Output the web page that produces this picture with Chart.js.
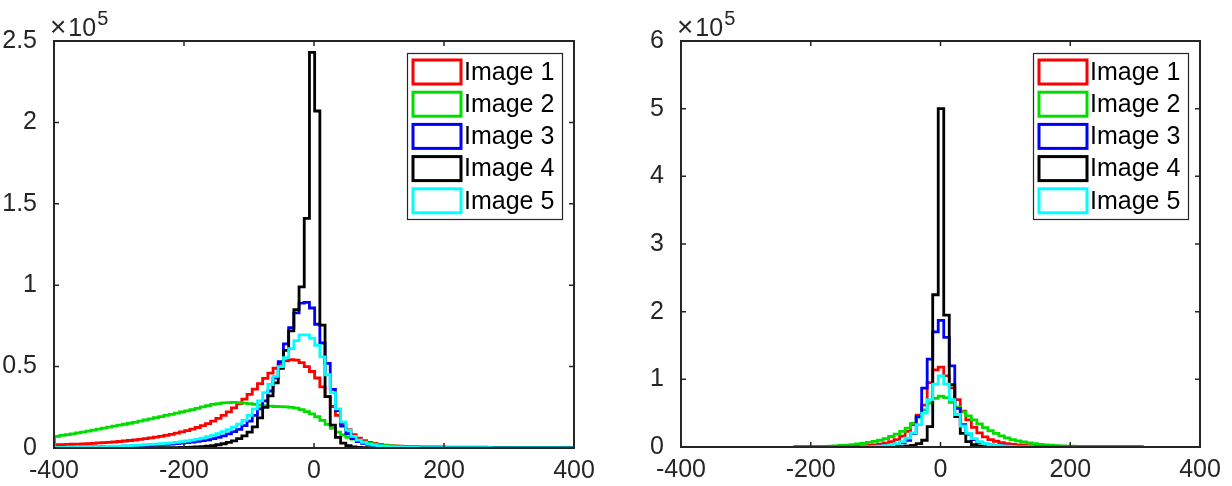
<!DOCTYPE html>
<html>
<head>
<meta charset="utf-8">
<script src="https://cdn.jsdelivr.net/npm/chart.js@4.4.1/dist/chart.umd.min.js"></script>
<style>
  html, body { margin: 0; padding: 0; background: #fff; }
  .panel { position: absolute; top: 0; width: 616px; height: 486px; }
</style>
</head>
<body>
<div class="panel" style="left:0"><canvas id="hist-left"></canvas></div>
<div class="panel" style="left:616px"><canvas id="hist-right"></canvas></div>
<script>
// series names and colours
const labels = ['Image 1', 'Image 2', 'Image 3', 'Image 4', 'Image 5'];
const colors = ['#ff0000', '#00dd00', '#0000ff', '#000000', '#00ffff'];

// tick values
const xTicks = [-400, -200, 0, 200, 400];
const yTicksLeft = [0, 0.5, 1, 1.5, 2, 2.5];
const yTicksRight = [0, 1, 2, 3, 4, 5, 6];

// left panel: bin edges and counts (x10^5)
const leftEdges = [-399,-391,-383,-375,-367,-359,-351,-343,-335,-327,-319,-311,-303,-295,-287,-279,-271,-263,-255,-247,
  -239,-231,-223,-215,-207,-199,-191,-183,-175,-167,-159,-151,-143,-135,-127,-119,-111,-103,-95,-87,
  -79,-71,-63,-55,-47,-39,-31,-23,-15,-7,1,9,17,25,33,41,49,57,65,73,
  81,89,97,105,113,121,129,137,145,153,161,169,177,185,193,201,209,217,225,233,
  241,249,257,265,273,281,289,297,305,313,321,329,337,345,353,361,369,377,385,393,401];

const leftImg1 = [0.020,0.021,0.022,0.023,0.024,0.025,0.027,0.029,0.031,0.033,
  0.035,0.037,0.040,0.043,0.046,0.049,0.053,0.057,0.062,0.067,
  0.072,0.078,0.084,0.091,0.099,0.107,0.116,0.126,0.137,0.150,
  0.165,0.182,0.200,0.222,0.246,0.272,0.300,0.330,0.362,0.395,
  0.428,0.460,0.490,0.515,0.535,0.542,0.540,0.525,0.500,0.470,
  0.430,0.375,0.315,0.255,0.200,0.152,0.112,0.082,0.060,0.045,
  0.035,0.028,0.022,0.018,0.015,0.013,0.011,0.010,0.009,0.008,
  0.0075,0.007,0.0065,0.006,0.006,0.0055,0.0055,0.005,0.005,0.005,
  0.0045,0.0045,0.0045,0.004,0.004,0.004,0.004,0.0035,0.0035,0.0035,
  0.0035,0.003,0.003,0.003,0.003,0.003,0.003,0.0025,0.0025,0.0025];

const leftImg2 = [0.072,0.077,0.082,0.087,0.093,0.098,0.104,0.110,0.116,0.122,
  0.128,0.134,0.140,0.146,0.152,0.158,0.165,0.172,0.179,0.186,
  0.193,0.200,0.207,0.214,0.221,0.228,0.236,0.244,0.252,0.260,
  0.268,0.273,0.277,0.279,0.280,0.279,0.276,0.272,0.268,0.264,
  0.260,0.257,0.255,0.254,0.253,0.250,0.245,0.236,0.224,0.210,
  0.192,0.170,0.145,0.120,0.098,0.080,0.066,0.054,0.044,0.036,
  0.029,0.024,0.019,0.016,0.013,0.011,0.009,0.008,0.007,0.006,
  0.0055,0.005,0.0048,0.0046,0.0044,0.0042,0.004,0.0038,0.0036,0.0035,
  0.0034,0.0033,0.0032,0.0031,0.003,0.0029,0.0028,0.0027,0.0026,0.0025,
  0.0024,0.0023,0.0022,0.0021,0.002,0.002,0.002,0.002,0.002,0.002];

const leftImg3 = [0.004,0.004,0.005,0.005,0.005,0.006,0.006,0.007,0.007,0.008,
  0.008,0.009,0.010,0.011,0.012,0.013,0.014,0.015,0.016,0.018,
  0.020,0.022,0.024,0.027,0.030,0.033,0.037,0.041,0.045,0.050,
  0.057,0.065,0.075,0.087,0.100,0.115,0.138,0.165,0.200,0.240,
  0.290,0.350,0.430,0.530,0.640,0.740,0.830,0.890,0.895,0.860,
  0.760,0.645,0.520,0.360,0.230,0.135,0.088,0.058,0.040,0.028,
  0.020,0.015,0.011,0.008,0.006,0.005,0.004,0.0035,0.003,0.003,
  0.0028,0.0026,0.0024,0.0022,0.002,0.002,0.0018,0.0018,0.0016,0.0016,
  0.0015,0.0015,0.0014,0.0014,0.0013,0.0013,0.0012,0.0012,0.0011,0.0011,
  0.001,0.001,0.001,0.001,0.001,0.001,0.001,0.001,0.001,0.001];

const leftImg4 = [0,0,0,0,0,0,0,0,0,0,
  0,0,0,0,0,0.001,0.001,0.001,0.001,0.001,
  0.0015,0.0015,0.002,0.0025,0.003,0.0035,0.0045,0.006,0.008,0.011,
  0.015,0.020,0.026,0.034,0.044,0.057,0.075,0.098,0.130,0.185,
  0.250,0.320,0.400,0.490,0.600,0.720,0.850,0.990,1.410,2.430,
  2.070,0.755,0.315,0.140,0.065,0.030,0.014,0.007,0.004,0.002,
  0.001,0,0,0,0,0,0,0,0,0,
  0,0,0,0,0,0,0,0,0,0,
  0,0,0,0,0,0,0,0,0,0,
  0,0,0,0,0,0,0,0,0,0];

const leftImg5 = [0.004,0.004,0.005,0.005,0.006,0.006,0.007,0.007,0.008,0.009,
  0.010,0.011,0.012,0.013,0.014,0.016,0.018,0.020,0.022,0.024,
  0.026,0.029,0.032,0.035,0.039,0.043,0.048,0.054,0.061,0.069,
  0.078,0.088,0.100,0.113,0.128,0.147,0.170,0.200,0.240,0.290,
  0.340,0.390,0.440,0.500,0.555,0.610,0.660,0.695,0.695,0.675,
  0.630,0.560,0.450,0.340,0.240,0.160,0.110,0.072,0.048,0.034,
  0.024,0.018,0.013,0.010,0.008,0.006,0.005,0.004,0.0035,0.003,
  0.0028,0.0026,0.0024,0.0022,0.002,0.002,0.0018,0.0018,0.0016,0.0016,
  0.0015,0.0015,0.0014,0.0014,0.0013,0.0013,0.0012,0.0012,0.0011,0.0011,
  0.001,0.001,0.001,0.001,0.001,0.001,0.001,0.001,0.001,0.001];

// right panel: bin edges and counts (x10^5)
const rightEdges = [-224.5,-216,-207.5,-199,-190.5,-182,-173.5,-165,-156.5,-148,
  -139.5,-131,-122.5,-114,-105.5,-97,-88.5,-80,-71.5,-63,
  -54.5,-46,-37.5,-29,-20.5,-12,-3.5,5,13.5,22,
  30.5,39,47.5,56,64.5,73,81.5,90,98.5,107,
  115.5,124,132.5,141,149.5,158,166.5,175,183.5,192,
  200.5,209,217.5,226,234.5,243,251.5,260,268.5,277,
  285.5,294,302.5,311];

const rightImg1 = [0.001,0.001,0.002,0.002,0.003,0.003,0.004,0.005,0.006,0.008,
  0.010,0.013,0.017,0.023,0.031,0.042,0.058,0.080,0.110,0.160,
  0.230,0.330,0.470,0.620,0.950,1.140,1.180,1.050,0.870,0.700,
  0.530,0.400,0.290,0.210,0.150,0.110,0.085,0.065,0.050,0.040,
  0.032,0.026,0.021,0.017,0.014,0.011,0.009,0.007,0.006,0.005,
  0.004,0.0035,0.003,0.0025,0.002,0.002,0.0015,0.0015,0.001,0.001,
  0.001,0.001,0.001];

const rightImg2 = [0.003,0.004,0.005,0.006,0.008,0.010,0.013,0.017,0.022,0.028,
  0.035,0.044,0.055,0.068,0.084,0.100,0.125,0.155,0.190,0.230,
  0.280,0.350,0.440,0.550,0.650,0.720,0.750,0.730,0.660,0.590,
  0.520,0.460,0.400,0.340,0.285,0.240,0.200,0.165,0.135,0.110,
  0.090,0.074,0.060,0.049,0.040,0.032,0.026,0.021,0.017,0.014,
  0.011,0.009,0.007,0.006,0.005,0.004,0.0035,0.003,0.0025,0.002,
  0.002,0.0015,0.001];

const rightImg3 = [0.001,0.001,0.001,0.001,0.001,0.0015,0.0015,0.002,0.002,0.0025,
  0.003,0.004,0.005,0.007,0.009,0.013,0.018,0.026,0.038,0.060,
  0.100,0.200,0.450,0.870,1.300,1.700,1.870,1.620,1.200,0.570,
  0.330,0.190,0.110,0.068,0.045,0.030,0.021,0.015,0.011,0.008,
  0.006,0.005,0.004,0.003,0.0025,0.002,0.002,0.002,0.0018,0.0016,
  0.0015,0.0014,0.0013,0.0012,0.0011,0.001,0.001,0.001,0.001,0.001,
  0.001,0.001,0.001];

const rightImg4 = [0,0,0,0,0,0,0,0,0,0,
  0,0,0,0,0,0.001,0.001,0.002,0.003,0.006,
  0.012,0.025,0.050,0.100,0.300,2.250,5.000,1.950,0.920,0.450,
  0.200,0.080,0.035,0.015,0.007,0.003,0.002,0.001,0,0,
  0,0,0,0,0,0,0,0,0,0,
  0,0,0,0,0,0,0,0,0,0,
  0,0,0];

const rightImg5 = [0.001,0.001,0.001,0.001,0.001,0.001,0.0015,0.0015,0.002,0.002,
  0.0025,0.003,0.004,0.006,0.009,0.014,0.021,0.032,0.050,0.080,
  0.130,0.210,0.330,0.500,0.700,0.930,1.050,0.930,0.700,0.480,
  0.310,0.200,0.125,0.080,0.052,0.035,0.024,0.017,0.012,0.009,
  0.007,0.005,0.004,0.003,0.0025,0.002,0.002,0.0018,0.0016,0.0015,
  0.0014,0.0013,0.0012,0.0011,0.001,0.001,0.001,0.001,0.001,0.001,
  0.001,0.001,0.001];

const axisColor = '#262626';
const fontFamily = '"Liberation Sans", Arial, sans-serif';

// histogram outline (like matlab 'stairs' display style)
function stairs(edges, counts) {
  const pts = [{ x: edges[0], y: 0 }];
  counts.forEach((c, i) => pts.push({ x: edges[i], y: c }));
  pts.push({ x: edges[edges.length - 1], y: 0 });
  return pts;
}

// box, inward ticks, exponent and legend
const matlabAxes = {
  id: 'matlabAxes',
  afterDraw(chart) {
    const { ctx, chartArea: a, scales } = chart;
    const x = scales.x, y = scales.y;
    ctx.save();

    ctx.strokeStyle = axisColor;
    ctx.lineWidth = 2;
    ctx.strokeRect(a.left, a.top, a.right - a.left, a.bottom - a.top);
    ctx.lineWidth = 1.5;
    ctx.beginPath();
    x.ticks.forEach(t => {
      const px = x.getPixelForValue(t.value);
      ctx.moveTo(px, a.bottom); ctx.lineTo(px, a.bottom - 5);
      ctx.moveTo(px, a.top); ctx.lineTo(px, a.top + 5);
    });
    y.ticks.forEach(t => {
      const py = y.getPixelForValue(t.value);
      ctx.moveTo(a.left, py); ctx.lineTo(a.left + 5, py);
      ctx.moveTo(a.right, py); ctx.lineTo(a.right - 5, py);
    });
    ctx.stroke();

    // x10^5
    ctx.fillStyle = axisColor;
    ctx.textAlign = 'left';
    ctx.textBaseline = 'alphabetic';
    const ex = a.left - 4, ey = a.top - 5;
    ctx.font = '28px ' + fontFamily;
    ctx.fillText('\u00d7', ex, ey);
    const wx = ctx.measureText('\u00d7').width;
    ctx.font = '25px ' + fontFamily;
    ctx.fillText('10', ex + wx + 2, ey);
    const w10 = ctx.measureText('10').width;
    ctx.font = '20px ' + fontFamily;
    ctx.fillText('5', ex + wx + 3 + w10, ey - 11);

    // legend
    const lw = 155, lh = 166;
    const lx = a.right - 12 - lw, ly = a.top + 12;
    ctx.fillStyle = '#fff';
    ctx.fillRect(lx, ly, lw, lh);
    ctx.strokeStyle = axisColor;
    ctx.lineWidth = 1.2;
    ctx.strokeRect(lx + 0.5, ly + 0.5, lw, lh);
    ctx.font = '25px ' + fontFamily;
    ctx.textBaseline = 'middle';
    chart.data.datasets.forEach((ds, i) => {
      const cy = ly + 19 + i * 32.2;
      ctx.strokeStyle = ds.borderColor;
      ctx.lineWidth = 3;
      ctx.strokeRect(lx + 6, cy - 12, 48, 24);
      ctx.fillStyle = '#000';
      ctx.fillText(ds.label, lx + 57, cy + 1);
    });
    ctx.restore();
  }
};

function makeHist(id, edges, series, yTicks, yWidth, xHeight, padRight) {
  return new Chart(document.getElementById(id), {
    type: 'line',
    data: {
      datasets: series.map((s, i) => ({
        label: labels[i],
        data: stairs(edges, s),
        borderColor: colors[i],
        backgroundColor: colors[i],
        borderWidth: 2.8,
        pointRadius: 0,
        stepped: 'before',
        fill: false,
        order: series.length - i
      }))
    },
    options: {
      responsive: true,
      maintainAspectRatio: false,
      animation: false,
      devicePixelRatio: 1,
      layout: { padding: { top: 41, right: padRight, left: 0, bottom: 0 } },
      plugins: { legend: { display: false }, tooltip: { enabled: false } },
      scales: {
        x: {
          type: 'linear',
          min: xTicks[0],
          max: xTicks[xTicks.length - 1],
          afterBuildTicks: s => { s.ticks = xTicks.map(v => ({ value: v })); },
          ticks: { color: axisColor, font: { family: fontFamily, size: 25 }, padding: 0, maxRotation: 0, autoSkip: false,
            callback: v => String(v) },
          grid: { display: false },
          border: { display: false },
          afterFit: s => { s.height = xHeight; }
        },
        y: {
          min: yTicks[0],
          max: yTicks[yTicks.length - 1],
          afterBuildTicks: s => { s.ticks = yTicks.map(v => ({ value: v })); },
          ticks: { color: axisColor, font: { family: fontFamily, size: 25 }, padding: 9, autoSkip: false,
            callback: v => String(v) },
          grid: { display: false },
          border: { display: false },
          afterFit: s => { s.width = yWidth; }
        }
      }
    },
    plugins: [matlabAxes]
  });
}

makeHist('hist-left', leftEdges, [leftImg1, leftImg2, leftImg3, leftImg4, leftImg5], yTicksLeft, 54, 38, 42);
makeHist('hist-right', rightEdges, [rightImg1, rightImg2, rightImg3, rightImg4, rightImg5], yTicksRight, 65, 39, 32);
</script>
</body>
</html>
